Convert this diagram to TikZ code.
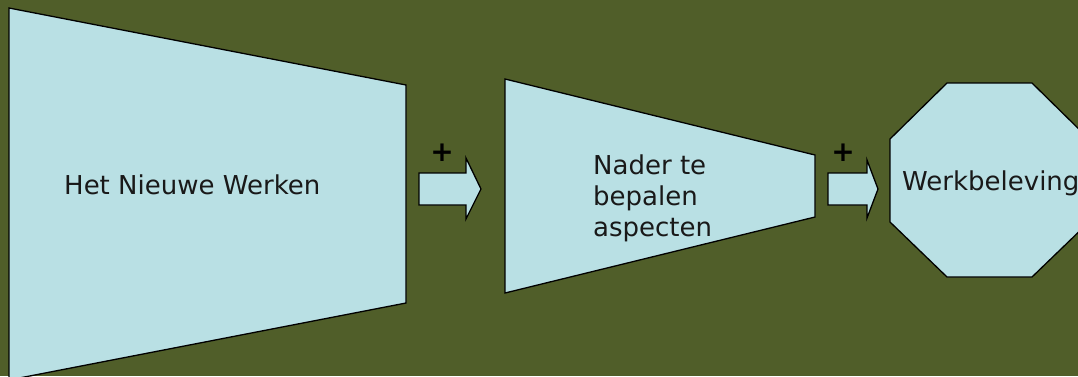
\documentclass[tikz,border=0pt]{standalone}
\usepackage{fontspec}
\setmainfont{DejaVu Sans}
\definecolor{olijf}{RGB}{80,94,41}
\definecolor{lichtblauw}{RGB}{185,224,228}
\tikzset{
  vlak/.style={draw=black,fill=lichtblauw,line width=1.3pt,line join=miter},
  label/.style={inner sep=0pt,font=\fontsize{26}{31}\selectfont,text=black!90},
  plusteken/.style={inner sep=0pt,font=\fontsize{28}{28}\selectfont\bfseries,text=black}
}
\begin{document}
\begin{tikzpicture}[x=1pt,y=-1pt]
  \useasboundingbox (0,0) rectangle (1078,376);
  \fill[olijf] (0,0) rectangle (1078,376);
  \clip (0,0) rectangle (1078,376);
  % vlakken
  \draw[vlak] (9,8) -- (406,85) -- (406,303) -- (9,380) -- cycle;
  \draw[vlak] (505,79) -- (815,155) -- (815,217) -- (505,293) -- cycle;
  \draw[vlak] (890,139) -- (947,83) -- (1032,83) -- (1089,139)
              -- (1089,222) -- (1032,277) -- (947,277) -- (890,222) -- cycle;
  % pijlen
  \draw[vlak] (419,173) -- (466,173) -- (466,158) -- (481,189)
              -- (466,219) -- (466,205) -- (419,205) -- cycle;
  \draw[vlak] (828,173) -- (867,173) -- (867,160) -- (878,189)
              -- (867,218) -- (867,205) -- (828,205) -- cycle;
  % teksten
  \path (64,194) node[label,anchor=base west] (hnw) {Het Nieuwe Werken};
  \path (593,198) node[label,anchor=west,align=left] (nader) {Nader te\\bepalen\\aspecten};
  \path (902,190) node[label,anchor=base west] (werk) {Werkbeleving};
  \path (442,153) node[plusteken] (plus1) {+};
  \path (843,153) node[plusteken] (plus2) {+};
\end{tikzpicture}
\end{document}
